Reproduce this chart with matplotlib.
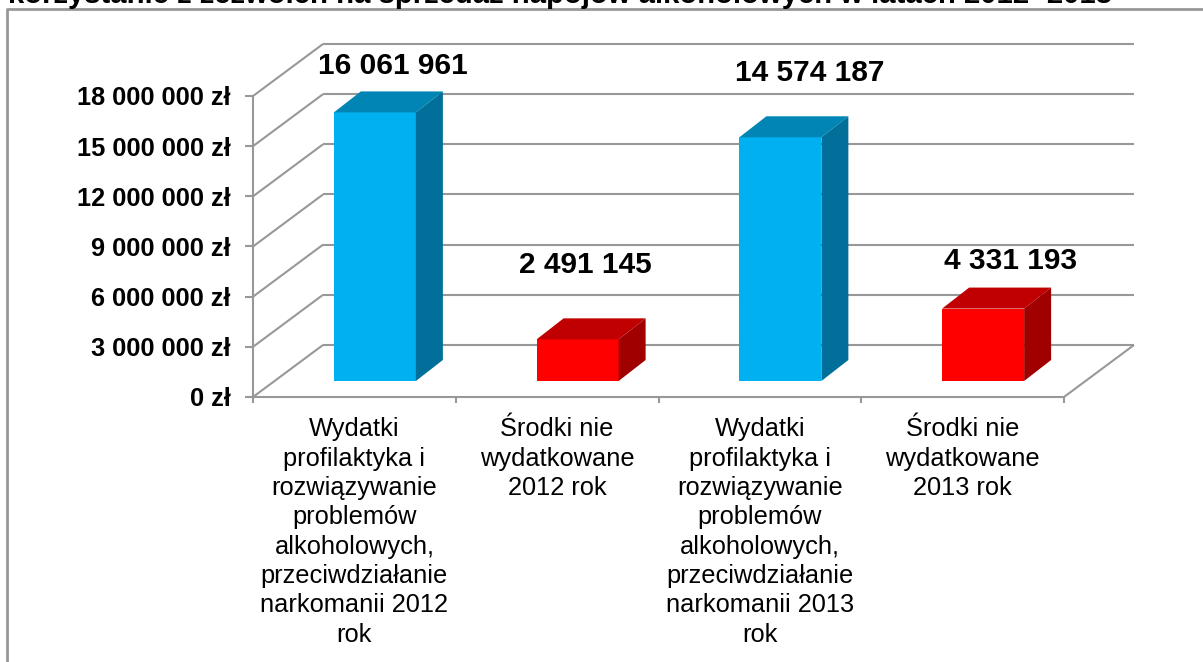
import matplotlib
matplotlib.use("Agg")
import matplotlib.pyplot as plt
from matplotlib.patches import Polygon
from matplotlib.lines import Line2D

plt.rcParams['font.family'] = ['Liberation Sans', 'DejaVu Sans']

W, H = 1203, 662
title = "korzystanie z zezwoleń na sprzedaż napojów alkoholowych w latach 2012- 2013"
categories = [
    "Wydatki\nprofilaktyka i\nrozwiązywanie\nproblemów\nalkoholowych,\nprzeciwdziałanie\nnarkomanii 2012\nrok",
    "Środki nie\nwydatkowane\n2012 rok",
    "Wydatki\nprofilaktyka i\nrozwiązywanie\nproblemów\nalkoholowych,\nprzeciwdziałanie\nnarkomanii 2013\nrok",
    "Środki nie\nwydatkowane\n2013 rok",
]
values = [16061961, 2491145, 14574187, 4331193]
value_labels = ["16 061 961", "2 491 145", "14 574 187", "4 331 193"]
front_colors = ["#00B0F0", "#FF0000", "#00B0F0", "#FF0000"]
top_colors = ["#0085B5", "#C00000", "#0085B5", "#C00000"]
side_colors = ["#00709A", "#A00000", "#00709A", "#A00000"]
y_ticks = [0, 3000000, 6000000, 9000000, 12000000, 15000000, 18000000]
y_tick_labels = ["0 zł", "3 000 000 zł", "6 000 000 zł", "9 000 000 zł",
                 "12 000 000 zł", "15 000 000 zł", "18 000 000 zł"]
# label placement, pixels from each category centre / bar top
label_dx_px = [38, 28, 50, 48]
label_dy_px = [46, 74.5, 64, 47.6]

GRID = "#989898"
L, R, B, T = 253, 1064, 397, 96      # front plane in pixels
fig = plt.figure(figsize=(W / 100, H / 100), dpi=100, facecolor="white")
ax = fig.add_axes([L / W, 1 - B / H, (R - L) / W, (B - T) / H])
ax.set_xlim(-0.5, 3.5)
ax.set_ylim(0, 18000000)
ax.patch.set_alpha(0)

ux = 4 / (R - L)              # data per pixel, x
uy = 18000000 / (B - T)       # data per pixel, y
WALL_DX, WALL_DY = 70 * ux, 52 * uy
BAR_W, BAR_DX, BAR_DY = 82 * ux, 27 * ux, 21 * uy
BAR_SHIFT_X, BAR_SHIFT_Y = 20.5 * ux, 16 * uy


def line(xs, ys):
    ax.add_line(Line2D(xs, ys, color=GRID, lw=1.5, clip_on=False, solid_capstyle="butt"))


for v in y_ticks:
    line([-0.5, -0.5 + WALL_DX], [v, v + WALL_DY])
    line([-0.5 + WALL_DX, 3.5 + WALL_DX], [v + WALL_DY, v + WALL_DY])
line([3.5, 3.5 + WALL_DX], [0, WALL_DY])

for i, v in enumerate(values):
    x0 = i + BAR_SHIFT_X - BAR_W / 2
    x1 = x0 + BAR_W
    y0 = BAR_SHIFT_Y
    y1 = y0 + v
    ax.add_patch(Polygon([(x0, y0), (x1, y0), (x1, y1), (x0, y1)], fc=front_colors[i], ec="none", zorder=3, clip_on=False))
    ax.add_patch(Polygon([(x0, y1), (x1, y1), (x1 + BAR_DX, y1 + BAR_DY), (x0 + BAR_DX, y1 + BAR_DY)], fc=top_colors[i], ec="none", zorder=3, clip_on=False))
    ax.add_patch(Polygon([(x1, y0), (x1 + BAR_DX, y0 + BAR_DY), (x1 + BAR_DX, y1 + BAR_DY), (x1, y1)], fc=side_colors[i], ec="none", zorder=3, clip_on=False))
    ax.text(i + label_dx_px[i] * ux, y1 + label_dy_px[i] * uy, value_labels[i],
            ha="center", va="center", fontsize=21.5, fontweight="bold", color="black", zorder=5)

for s in ("top", "right"):
    ax.spines[s].set_visible(False)
for s in ("left", "bottom"):
    ax.spines[s].set_color(GRID)
    ax.spines[s].set_linewidth(1.5)
ax.set_xticks([-0.5, 0.5, 1.5, 2.5, 3.5])
ax.set_xticklabels([])
ax.set_yticks(y_ticks)
ax.set_yticklabels(y_tick_labels, fontsize=18.3, fontweight="bold")
ax.tick_params(axis="y", length=6, width=1.5, color=GRID, pad=10)
ax.tick_params(axis="x", length=4, width=1.5, color=GRID)

for i, c in enumerate(categories):
    ax.annotate(c, xy=(i, 0), xycoords="data", xytext=(0, -14.5), textcoords="offset points",
                ha="center", va="top", fontsize=18.3, linespacing=1.283, multialignment="center",
                annotation_clip=False)

# outer frame and the cut-off heading above it
fig.add_artist(Line2D([7 / W, 7 / W, 1], [0, 1 - 8.5 / H, 1 - 8.5 / H], color=GRID, lw=2))
fig.text(8 / W, 1 - 3 / H, title, ha="left", va="baseline", fontsize=21.1, fontweight="bold", color="black")

fig.savefig("out.png", dpi=100, facecolor="white")
